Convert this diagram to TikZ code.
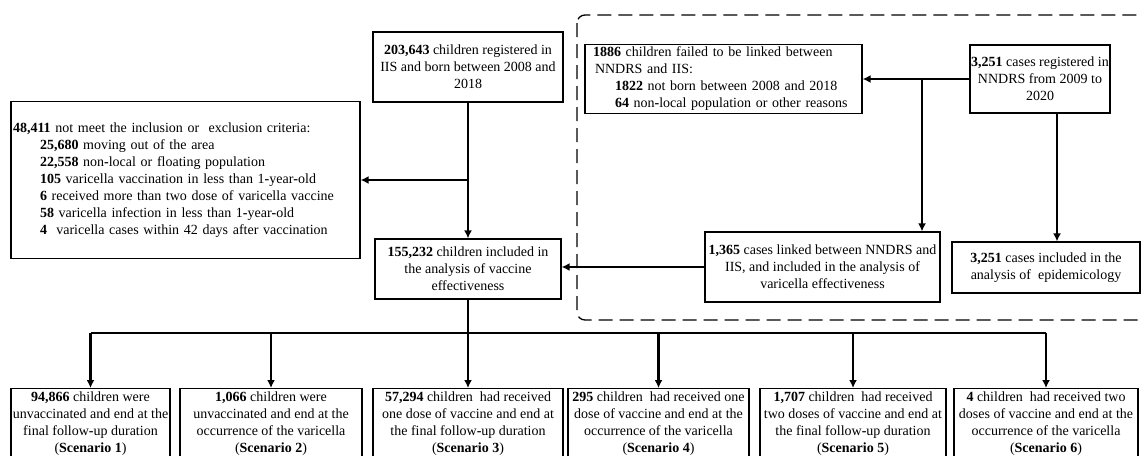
\documentclass[tikz,border=0pt]{standalone}
\usepackage{fontspec}
\setmainfont{Liberation Serif}
\usetikzlibrary{arrows.meta}
\begin{document}
\begin{tikzpicture}[x=1pt,y=-1pt,
  box/.style={draw, line width=1.2pt, inner sep=0pt, align=center,
    font=\fontsize{14}{17}\selectfont},
  lbox/.style={box, align=left},
  sbox/.style={draw, line width=1.2pt, inner xsep=0pt, inner ysep=3pt, align=center,
    anchor=north, font=\fontsize{14}{17}\selectfont},
  conn/.style={line width=2.6pt},
  arr/.style={conn, -{Latex[length=8pt,width=8pt]}},
  dashframe/.style={line width=1.3pt, dash pattern=on 14pt off 7pt, rounded corners=8pt}]
\useasboundingbox (0,0) rectangle (1142,455);

% dashed frame
\draw[dashframe] (577,15) rectangle (1170,320);

% top left column
\node[box, minimum width=190pt, minimum height=70pt] (top) at (468,67)
  {\textbf{203,643} children registered in\\IIS and born between 2008 and\\2018};
\node[lbox, minimum width=349pt, minimum height=157pt, text width=345pt, inner xsep=2pt] (excl) at (185.5,180)
  {\textbf{48,411} not meet the inclusion or\ \ exclusion criteria:\\
   \hspace*{27pt}\textbf{25,680} moving out of the area\\
   \hspace*{27pt}\textbf{22,558} non\textbf{-}local or floating population\\
   \hspace*{27pt}\textbf{105} varicella vaccination in less than 1\textbf{-}year\textbf{-}old\\
   \hspace*{27pt}\textbf{6} received more than two dose of varicella vaccine\\
   \hspace*{27pt}\textbf{58} varicella infection in less than 1\textbf{-}year\textbf{-}old\\
   \hspace*{27pt}\textbf{4}\ \ varicella cases within 42 days after vaccination};
\node[box, minimum width=186pt, minimum height=60pt] (inc) at (468,269)
  {\textbf{155,232} children included in\\the analysis of vaccine\\effectiveness};

% right (dashed) part
\node[lbox, minimum width=277pt, minimum height=69pt, text width=261pt, inner xsep=8pt] (fail) at (723.5,79)
  {\textbf{1886} children failed to be linked between\\
   \hspace*{2pt}NNDRS and IIS:\\
   \hspace*{22pt}\textbf{1822} not born between 2008 and 2018\\
   \hspace*{22pt}\textbf{64} non\textbf{-}local population or other reasons};
\node[box, minimum width=140pt, minimum height=68pt] (reg) at (1040,79)
  {\textbf{3,251} cases registered in\\NNDRS from 2009 to\\2020};
\node[box, minimum width=235pt, minimum height=70pt] (link) at (822.5,267)
  {\textbf{1,365} cases linked between NNDRS and\\IIS, and included in the analysis of\\varicella effectiveness};
\node[box, minimum width=188pt, minimum height=51pt] (epi) at (1046,267.5)
  {\textbf{3,251} cases included in the\\analysis of\ \ epidemicology};

% bottom scenarios
\node[sbox, minimum width=159pt] (s1) at (90.5,388)
  {\textbf{94,866} children were\\unvaccinated and end at the\\final follow\textbf{-}up duration\\(\textbf{Scenario 1})};
\node[sbox, minimum width=182pt] (s2) at (271,388)
  {\textbf{1,066} children were\\unvaccinated and end at the\\occurrence of the varicella\\(\textbf{Scenario 2})};
\node[sbox, minimum width=190pt] (s3) at (468,388)
  {\textbf{57,294} children\ \ had received\\one dose of vaccine and end at\\the final follow\textbf{-}up duration\\(\textbf{Scenario 3})};
\node[sbox, minimum width=181pt] (s4) at (658.5,388)
  {\textbf{295} children\ \ had received one\\dose of vaccine and end at the\\occurrence of the varicella\\(\textbf{Scenario 4})};
\node[sbox, minimum width=186pt] (s5) at (853,388)
  {\textbf{1,707} children\ \ had received\\two doses of vaccine and end at\\the final follow\textbf{-}up duration\\(\textbf{Scenario 5})};
\node[sbox, minimum width=184pt] (s6) at (1046,388)
  {\textbf{4} children\ \ had received two\\doses of vaccine and end at the\\occurrence of the varicella\\(\textbf{Scenario 6})};

% connectors, left column
\draw[arr] (top.south) -- (inc.north);
\draw[arr] (top.south |- excl.east) -- (excl.east);
\draw[arr] (link.west) -- (inc.east |- link.west);

% connectors, right part
\coordinate (J) at (922,0);
\draw[arr] (reg.west) -- (reg.west -| fail.east);
\draw[arr] (J |- reg.west) -- (J |- link.north);
\draw[arr] ([xshift=17pt]reg.south) -- ([xshift=17pt]reg.south |- epi.north);

% bottom branching
\coordinate (hb) at (0,333);
\draw[conn] (inc.south) -- (inc.south |- hb);
\draw[conn] (s1.north |- hb) -- (s6.north |- hb);
\foreach \s in {s1,s2,s3,s4,s5,s6}
  \draw[arr] (\s.north |- hb) -- (\s.north);
\end{tikzpicture}
\end{document}
